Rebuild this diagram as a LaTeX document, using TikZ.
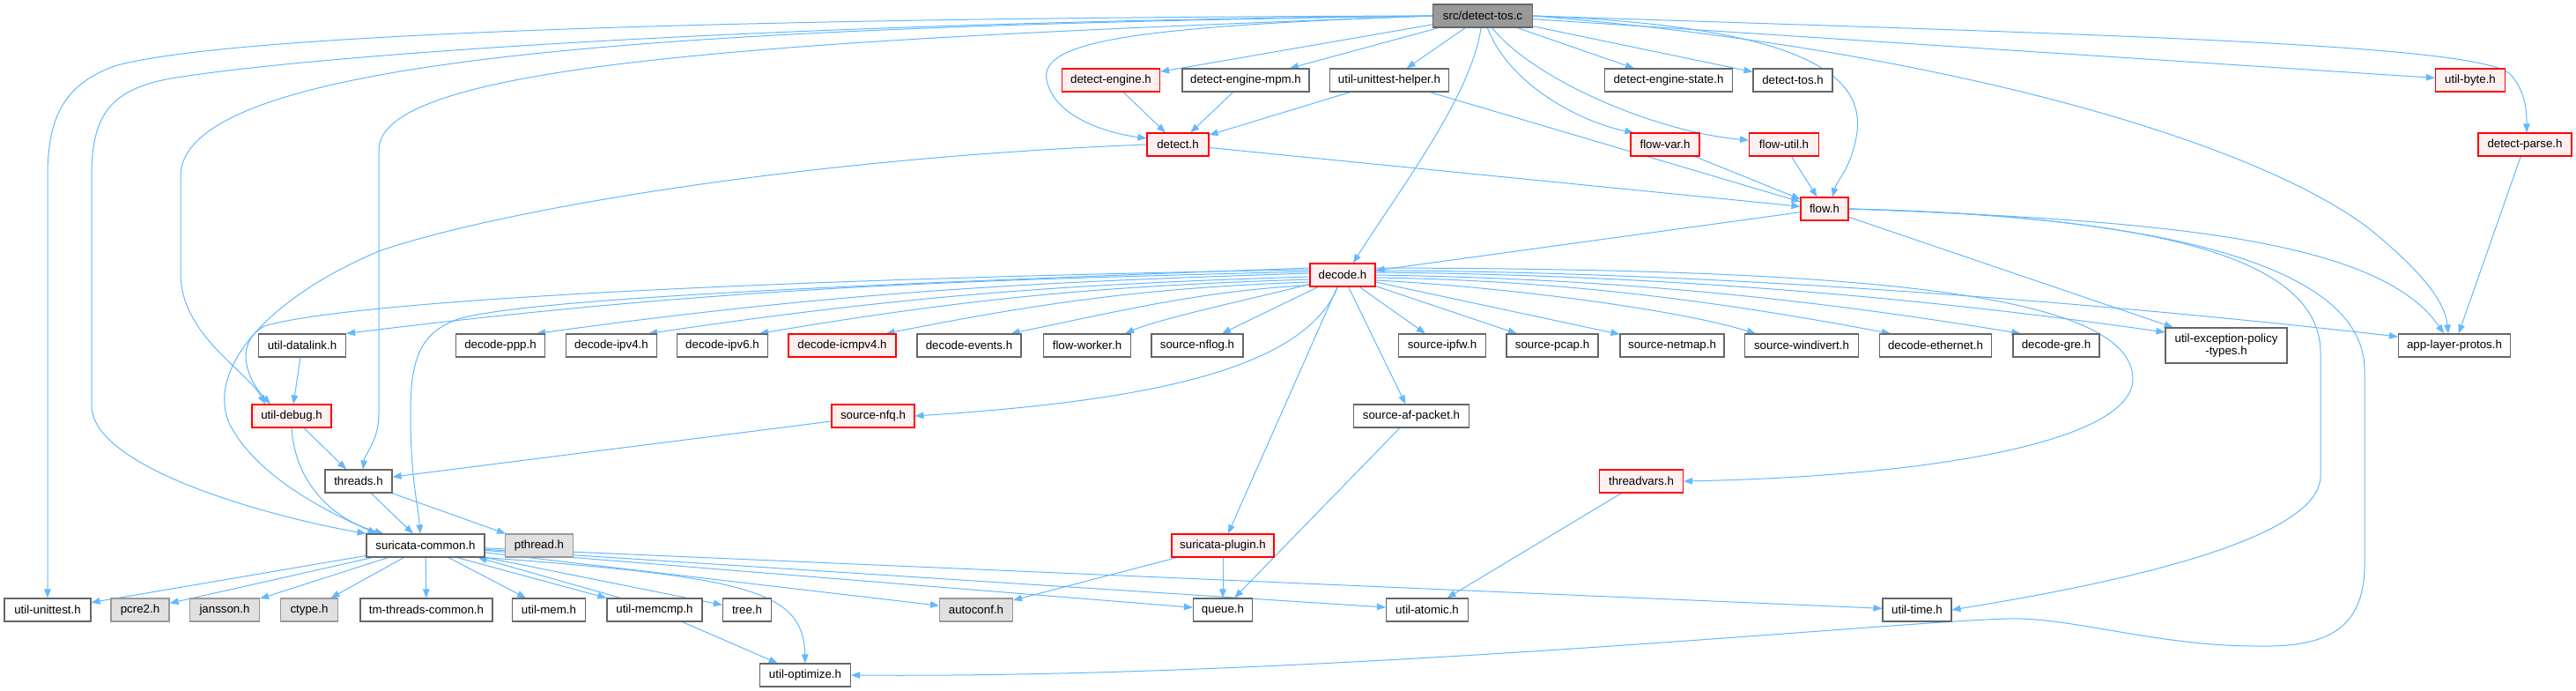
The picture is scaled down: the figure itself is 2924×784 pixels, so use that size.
\documentclass[tikz,border=0pt]{standalone}
\usepackage{fontspec}
\setmainfont{Liberation Sans}
\usetikzlibrary{arrows.meta,calc}
\definecolor{edgeblue}{HTML}{63B8FF}
\definecolor{ndgray}{HTML}{666666}
\definecolor{redfill}{HTML}{FFF0F0}
\definecolor{extfill}{HTML}{E0E0E0}
\definecolor{extborder}{HTML}{999999}
\definecolor{rootfill}{HTML}{999999}
\pgfdeclarelayer{edges}
\pgfsetlayers{edges,main}
\tikzset{
  nd/.style={rectangle, draw=ndgray, fill=white, line width=1.1pt, minimum height=26pt, inner sep=0pt, font=\fontsize{13.3}{14.5}\selectfont, text=black, align=center},
  rednd/.style={nd, draw=red, fill=redfill},
  extnd/.style={nd, draw=extborder, fill=extfill},
  rootnd/.style={nd, draw=ndgray, fill=rootfill},
  dep/.style={draw=edgeblue, line width=1pt, -{Triangle[length=10pt,width=7.5pt]}},
}
\begin{document}
\begin{tikzpicture}[x=1pt,y=-1pt]
\useasboundingbox (0,0) rectangle (2924,784);
% nodes
\node[rootnd, minimum width=113] (root) at (1683,18) {src/detect-tos.c};
\node[rednd, minimum width=111] (deng) at (1261,91) {detect-engine.h};
\node[nd, minimum width=144] (dmpm) at (1414,91) {detect-engine-mpm.h};
\node[nd, minimum width=135] (uuh) at (1577,91) {util-unittest-helper.h};
\node[nd, minimum width=145] (dest) at (1894,91) {detect-engine-state.h};
\node[nd, minimum width=90] (dtos) at (2035,91) {detect-tos.h};
\node[rednd, minimum width=79] (ubyte) at (2804,91) {util-byte.h};
\node[rednd, minimum width=70] (detect) at (1337,164) {detect.h};
\node[rednd, minimum width=78] (fvar) at (1890,164) {flow-var.h};
\node[rednd, minimum width=79] (futil) at (2025,164) {flow-util.h};
\node[rednd, minimum width=106] (dparse) at (2866,164) {detect-parse.h};
\node[rednd, minimum width=54] (flow) at (2071,237) {flow.h};
\node[rednd, minimum width=74] (decode) at (1524,312) {decode.h};
\node[nd, minimum width=99] (udl) at (343,392) {util-datalink.h};
\node[nd, minimum width=101] (dppp) at (568,392) {decode-ppp.h};
\node[nd, minimum width=103] (dipv4) at (694,392) {decode-ipv4.h};
\node[nd, minimum width=103] (dipv6) at (820,392) {decode-ipv6.h};
\node[rednd, minimum width=122] (dicmp) at (956,392) {decode-icmpv4.h};
\node[nd, minimum width=118] (devents) at (1100,392) {decode-events.h};
\node[nd, minimum width=99] (fworker) at (1234,392) {flow-worker.h};
\node[nd, minimum width=104] (snflog) at (1359,392) {source-nflog.h};
\node[nd, minimum width=99] (sipfw) at (1637,392) {source-ipfw.h};
\node[nd, minimum width=104] (spcap) at (1762,392) {source-pcap.h};
\node[nd, minimum width=118] (snetmap) at (1898,392) {source-netmap.h};
\node[nd, minimum width=129] (swindivert) at (2045,392) {source-windivert.h};
\node[nd, minimum width=127] (deth) at (2197,392) {decode-ethernet.h};
\node[nd, minimum width=98] (dgre) at (2334,392) {decode-gre.h};
\node[nd, minimum width=138, minimum height=40] (uexc) at (2527,392) {util-exception-policy\\-types.h};
\node[nd, minimum width=127] (alp) at (2786,392) {app-layer-protos.h};
\node[rednd, minimum width=90] (udebug) at (331,472) {util-debug.h};
\node[rednd, minimum width=94] (snfq) at (991,472) {source-nfq.h};
\node[nd, minimum width=131] (safp) at (1602,472) {source-af-packet.h};
\node[nd, minimum width=76] (threads) at (407,546) {threads.h};
\node[rednd, minimum width=95] (tvars) at (1863,546) {threadvars.h};
\node[nd, minimum width=134] (scommon) at (483,619) {suricata-common.h};
\node[extnd, minimum width=77] (pthread) at (612,619) {pthread.h};
\node[rednd, minimum width=116] (splugin) at (1388,619) {suricata-plugin.h};
\node[nd, minimum width=98] (uunit) at (54,692) {util-unittest.h};
\node[extnd, minimum width=66] (pcre) at (159,692) {pcre2.h};
\node[extnd, minimum width=79] (jansson) at (255,692) {jansson.h};
\node[extnd, minimum width=65] (ctype) at (351,692) {ctype.h};
\node[nd, minimum width=150] (tmtc) at (484,692) {tm-threads-common.h};
\node[nd, minimum width=83] (umem) at (623,692) {util-mem.h};
\node[nd, minimum width=108] (umemcmp) at (743,692) {util-memcmp.h};
\node[nd, minimum width=55] (tree) at (848,692) {tree.h};
\node[extnd, minimum width=83] (autoconf) at (1108,692) {autoconf.h};
\node[nd, minimum width=67] (queue) at (1388,692) {queue.h};
\node[nd, minimum width=93] (uatomic) at (1620,692) {util-atomic.h};
\node[nd, minimum width=78] (utime) at (2176,692) {util-time.h};
\node[nd, minimum width=103] (uopt) at (914,766) {util-optimize.h};
\begin{pgfonlayer}{edges}
\fill[white] (0,0) rectangle (2924,784);
% root edges
\draw[dep] (root) -- (deng);
\draw[dep] (root) -- (dmpm);
\draw[dep] (root) -- (uuh);
\draw[dep] (root) -- (dest);
\draw[dep] (root) -- (dtos);
\draw[dep] (root) -- (ubyte);
\draw[dep] (root.west) .. controls (1300,30) and (1180,45) .. (1188,90) .. controls (1195,130) and (1250,150) .. ($(detect.west)+(0,-7)$);
\draw[dep] (root) .. controls (1670,110) and (1585,220) .. ($(decode.north)+(12,0)$);
\draw[dep] (root) .. controls (1715,100) and (1800,140) .. ($(fvar.north west)+(4,0)$);
\draw[dep] (root) .. controls (1740,90) and (1880,150) .. ($(futil.west)+(0,-5)$);
\draw[dep] (root.east) .. controls (2060,30) and (2115,90) .. (2108,150) .. controls (2102,190) and (2085,205) .. ($(flow.north)+(9,0)$);
\draw[dep] (root.east) .. controls (2400,40) and (2820,50) .. (2850,85) .. controls (2868,105) and (2868,130) .. ($(dparse.north)+(2,0)$);
\draw[dep] (root.east) .. controls (2200,55) and (2560,160) .. (2690,260) .. controls (2745,305) and (2775,340) .. ($(alp.north)+(-7,0)$);
\draw[dep] (root.west) .. controls (800,20) and (250,40) .. (130,75) .. controls (75,95) and (54,130) .. (54,200) -- (uunit.north);
\draw[dep] (root.west) .. controls (900,25) and (380,60) .. (200,88) .. controls (125,100) and (104,130) .. (104,200) -- (104,460) .. controls (104,530) and (300,585) .. (scommon.north west);
\draw[dep] (root.west) .. controls (800,30) and (205,60) .. (205,200) -- (205,310) .. controls (205,380) and (280,420) .. ($(udebug.north)+(-30,0)$);
\draw[dep] (root.west) .. controls (900,45) and (430,70) .. (430,170) -- (430,470) .. controls (430,500) and (414,515) .. ($(threads.north)+(5,0)$);
% detect-level edges
\draw[dep] (deng) -- (detect);
\draw[dep] (dmpm) -- (detect);
\draw[dep] (uuh) -- (detect);
\draw[dep] (uuh) -- (flow);
\draw[dep] (detect) -- (flow);
\draw[dep] (fvar) -- (flow);
\draw[dep] (futil) -- (flow);
\draw[dep] (dparse) -- (alp);
\draw[dep] (detect.west) .. controls (900,180) and (560,240) .. (430,285) .. controls (300,340) and (235,420) .. (260,480) .. controls (290,540) and (370,580) .. ($(scommon.north west)+(12,0)$);
% flow edges
\draw[dep] (flow) -- (decode);
\draw[dep] (flow) -- (uexc);
\draw[dep] (flow.east) .. controls (2450,250) and (2700,270) .. ($(alp.north)+(-12,0)$);
\draw[dep] (flow.east) .. controls (2400,245) and (2634,280) .. (2634,400) -- (2634,540) .. controls (2634,620) and (2350,670) .. (utime.east);
\draw[dep] (flow.east) .. controls (2450,245) and (2684,300) .. (2684,420) -- (2684,640) .. controls (2684,715) and (2640,735) .. (2560,733) .. controls (2450,733) and (2350,700) .. (2280,702) .. controls (2150,705) and (1500,770) .. (uopt.east);
% decode edges
\draw[dep] ($(decode.west)+(0,-4)$) .. controls (1110,318) and (830,324) .. (udl.north east);
\draw[dep] ($(decode.west)+(0,-2)$) .. controls (1180,320) and (960,330) .. ($(dppp.north east)+(-10,0)$);
\draw[dep] ($(decode.west)+(0,2)$) .. controls (1224,322) and (1036,334) .. ($(dipv4.north east)+(-10,0)$);
\draw[dep] ($(decode.west)+(0,5)$) .. controls (1268,324) and (1112,336) .. ($(dipv6.north east)+(-10,0)$);
\draw[dep] ($(decode.west)+(0,8)$) .. controls (1318,326) and (1198,340) .. ($(dicmp.north east)+(-12,0)$);
\draw[dep] ($(decode.south west)+(0,-2)$) .. controls (1368,330) and (1283,350) .. ($(devents.north east)+(-12,0)$);
\draw[dep] (decode) .. controls (1440,335) and (1320,360) .. ($(fworker.north east)+(-7,0)$);
\draw[dep] (decode) -- (snflog);
\draw[dep] (decode) -- (sipfw);
\draw[dep] (decode) -- (spcap);
\draw[dep] (decode) -- (snetmap);
\draw[dep] ($(decode.east)+(0,6)$) .. controls (1700,325) and (1900,350) .. ($(swindivert.north west)+(13,0)$);
\draw[dep] ($(decode.east)+(0,3)$) .. controls (1766,318) and (1942,340) .. ($(deth.north west)+(13,0)$);
\draw[dep] (decode.east) .. controls (1818,316) and (2037,336) .. ($(dgre.north west)+(9,0)$);
\draw[dep] ($(decode.east)+(0,-3)$) .. controls (1900,312) and (2200,340) .. ($(uexc.west)+(0,-15)$);
\draw[dep] ($(decode.east)+(0,-5)$) .. controls (1950,308) and (2400,345) .. ($(alp.west)+(0,-10)$);
\draw[dep] ($(decode.east)+(0,-8)$) .. controls (2100,305) and (2420,330) .. (2421,430) .. controls (2420,500) and (2200,540) .. (tvars.east);
\draw[dep] (decode) .. controls (1480,420) and (1300,455) .. (snfq.east);
\draw[dep] (decode) -- (safp);
\draw[dep] (decode) -- (splugin);
\draw[dep] ($(decode.west)+(0,-6)$) .. controls (900,316) and (400,340) .. (300,370) .. controls (265,390) and (280,430) .. ($(udebug.north)+(-24,0)$);
\draw[dep] ($(decode.west)+(0,-8)$) .. controls (1000,322) and (600,338) .. (520,362) .. controls (475,378) and (466,410) .. (466,470) .. controls (466,545) and (475,575) .. ($(scommon.north)+(-6,0)$);
% middle edges
\draw[dep] (udl) -- (udebug);
\draw[dep] (udebug) -- (threads);
\draw[dep] (udebug.south) .. controls (335,550) and (380,590) .. ($(scommon.north west)+(20,0)$);
\draw[dep] (snfq) -- (threads);
\draw[dep] (threads) -- (scommon);
\draw[dep] (threads) -- (pthread);
\draw[dep] (safp) -- (queue);
\draw[dep] (splugin) -- (autoconf);
\draw[dep] (splugin) -- (queue);
\draw[dep] (tvars) -- (uatomic);
% suricata-common edges
\draw[dep] (scommon) -- (uunit);
\draw[dep] (scommon) -- (pcre);
\draw[dep] (scommon) -- (jansson);
\draw[dep] (scommon) -- (ctype);
\draw[dep] (scommon) -- (tmtc);
\draw[dep] (scommon) -- (umem);
\draw[dep] ($(scommon.south east)+(-32,0)$) -- (umemcmp.north west);
\draw[dep] ($(umemcmp.north west)+(16,0)$) -- ($(scommon.south east)+(-8,0)$);
\draw[dep] (scommon) -- (tree);
\draw[dep] (scommon.south east) .. controls (850,655) and (912,670) .. (uopt.north);
\draw[dep] (scommon) -- (autoconf);
\draw[dep] (scommon) -- (queue);
\draw[dep] (scommon) -- (uatomic);
\draw[dep] (scommon) -- (utime);
\draw[dep] (umemcmp) -- (uopt);
\end{pgfonlayer}
\end{tikzpicture}
\end{document}
